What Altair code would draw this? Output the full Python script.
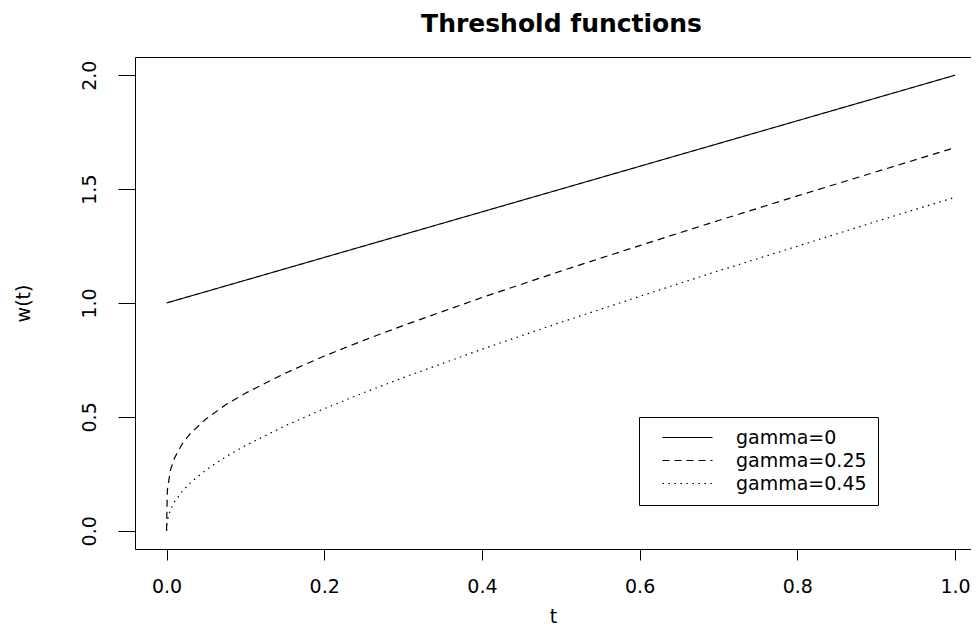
import altair as alt
import pandas as pd

# values
t_vals = [0, 0.001, 0.005, 0.01, 0.02, 0.03, 0.05, 0.075, 0.1, 0.15, 0.2, 0.25,
          0.3, 0.4, 0.5, 0.6, 0.7, 0.8, 0.9, 1.0]
w_gamma_0 = [1.0, 1.001, 1.005, 1.01, 1.02, 1.03, 1.05, 1.075, 1.1, 1.15, 1.2, 1.25,
             1.3, 1.4, 1.5, 1.6, 1.7, 1.8, 1.9, 2.0]
w_gamma_025 = [0.0, 0.178, 0.267, 0.319, 0.382, 0.426, 0.491, 0.553, 0.604, 0.691, 0.767, 0.836,
               0.901, 1.024, 1.140, 1.252, 1.362, 1.470, 1.576, 1.682]
w_gamma_045 = [0.0, 0.045, 0.093, 0.127, 0.174, 0.210, 0.267, 0.325, 0.374, 0.460, 0.536, 0.606,
               0.672, 0.797, 0.915, 1.029, 1.141, 1.249, 1.358, 1.464]
series_names = ["gamma=0", "gamma=0.25", "gamma=0.45"]
x_ticks = [0, 0.2, 0.4, 0.6, 0.8, 1.0]
y_ticks = [0, 0.5, 1.0, 1.5, 2.0]
title_text = "Threshold functions"

rows = []
for name, ws in zip(series_names, [w_gamma_0, w_gamma_025, w_gamma_045]):
    for t, w in zip(t_vals, ws):
        rows.append({"series": name, "t": t, "w": w})
df = pd.DataFrame(rows)

FONT = "DejaVu Sans"
W, H = 836, 492

x_scale = alt.Scale(domain=[-0.04, 1.0203], zero=False, nice=False)
y_scale = alt.Scale(domain=[-0.08, 2.08], zero=False, nice=False)

y_axis = alt.Axis(values=y_ticks, format=".1f", tickSize=17, labelAngle=270,
                  labelAlign="center", labelBaseline="bottom", labelPadding=19,
                  labelFontSize=19, title="w(t)", titleFontSize=19,
                  titleFontWeight="normal", titleAngle=270, titleX=-102, titleY=246,
                  titleAlign="center", titleBaseline="bottom")

lines = alt.Chart(df).mark_line(color="black", strokeWidth=1.2).encode(
    x=alt.X("t:Q", scale=x_scale,
            axis=alt.Axis(values=x_ticks, format=".1f", tickSize=11, labelPadding=17,
                          labelFontSize=19, labelFlush=False, labelOverlap=False,
                          title="t", titleFontSize=19, titleFontWeight="normal",
                          titleY=77, titleBaseline="bottom")),
    y=alt.Y("w:Q", scale=y_scale, axis=y_axis),
    strokeDash=alt.StrokeDash(
        "series:N",
        scale=alt.Scale(domain=series_names, range=[[1, 0], [7, 5], [1.5, 4.5]]),
        legend=alt.Legend(title=None, orient="none", legendX=504, legendY=360,
                          symbolType="M-5,0L5,0", symbolSize=100, symbolStrokeWidth=1.2,
                          symbolStrokeColor="black", labelFont=FONT, labelFontSize=19,
                          labelColor="black", labelOffset=39, padding=11,
                          strokeColor="black", fillColor="white", symbolOffset=28,
                          rowPadding=3),
    ),
)

# top axis: draws the upper frame line and carries the chart title
top_border = alt.Chart(df).mark_line(opacity=0).encode(
    x=alt.X("t:Q", scale=x_scale,
            axis=alt.Axis(orient="top", labels=False, ticks=False, domain=True,
                          title=title_text, titleFont=FONT, titleFontSize=25,
                          titleFontWeight="bold", titleAngle=0, titleX=426, titleY=-46,
                          titleAlign="center", titleBaseline="top")),
    y=alt.Y("w:Q", scale=y_scale, axis=y_axis),
)

chart = alt.layer(lines, top_border).resolve_axis(x="independent").properties(
    width=W, height=H,
    autosize=alt.AutoSizeParams(type="none"),
    padding={"left": 127, "top": 49, "right": 0, "bottom": 78},
).configure_view(strokeWidth=0).configure_axis(
    domainColor="black", tickColor="black", labelColor="black", titleColor="black",
    grid=False, labelFont=FONT, titleFont=FONT, domainWidth=1, tickWidth=1,
)

chart.save("out.html", embed_options={"renderer": "svg", "actions": False})
